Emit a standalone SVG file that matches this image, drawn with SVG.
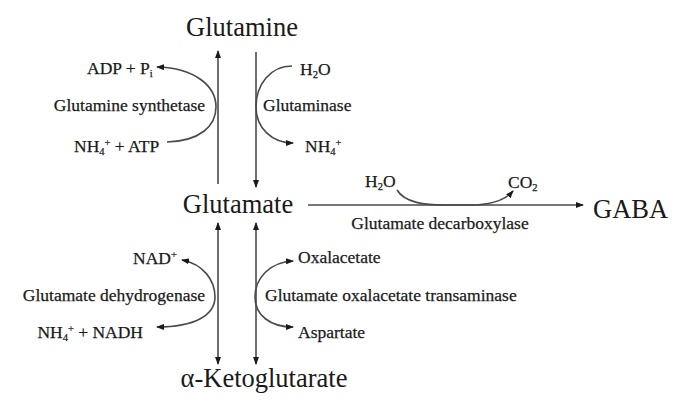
<svg xmlns="http://www.w3.org/2000/svg" width="696" height="413" viewBox="0 0 696 413">
<style>
text{font-family:"Liberation Serif","Times New Roman",serif;fill:#1a1a1a}
.big{font-size:26.5px}
.sm{font-size:17.5px;stroke:#1a1a1a;stroke-width:0.25}
.sub{font-size:10.5px}
.ln{fill:none;stroke:#4a4a4a;stroke-width:1.6}
</style>
<defs>
<marker id="ah" viewBox="0 0 8 6" refX="7" refY="3" markerWidth="8" markerHeight="6" markerUnits="userSpaceOnUse" orient="auto-start-reverse">
<path d="M0,0 L8,3 L0,6 Z" fill="#1a1a1a"/>
</marker>
</defs>
<rect width="696" height="413" fill="#fff"/>
<g id="connectors">
<line class="ln" x1="218" y1="184" x2="218" y2="51" marker-end="url(#ah)"/>
<line class="ln" x1="256" y1="52" x2="256" y2="187" marker-end="url(#ah)"/>
<line class="ln" x1="218" y1="223" x2="218" y2="364" marker-start="url(#ah)" marker-end="url(#ah)"/>
<line class="ln" x1="256" y1="223" x2="256" y2="364" marker-start="url(#ah)" marker-end="url(#ah)"/>
<line class="ln" x1="308" y1="205" x2="583" y2="205" marker-end="url(#ah)"/>
<path class="ln" d="M167,142 C200,141 216,126 216,107 C216,86 195,68 157,67" marker-end="url(#ah)"/>
<path class="ln" d="M292,66 C270,66 256,85 256,107 C256,128 272,143 293,143" marker-end="url(#ah)"/>
<path class="ln" d="M182,260 C203,264 215,280 215,297 C215,315 195,327 157,327" marker-start="url(#ah)" marker-end="url(#ah)"/>
<path class="ln" d="M293,261 C270,262 255,278 255,297 C255,315 270,327 293,327" marker-start="url(#ah)" marker-end="url(#ah)"/>
<path class="ln" d="M397,190 C405,203 425,205 445,205 L470,205 C490,205 505,200 513,191" marker-end="url(#ah)"/>
</g>
<g id="glutamine"><text class="big" x="242" y="36" text-anchor="middle">Glutamine</text></g>
<g id="glutamate"><text class="big" x="238" y="213" text-anchor="middle">Glutamate</text></g>
<g id="ketoglutarate"><text class="big" x="264" y="387" text-anchor="middle">α-Ketoglutarate</text></g>
<g id="gaba"><text class="big" x="593" y="218">GABA</text></g>
<g id="glutamine-synthetase">
<text class="sm" x="87" y="74">ADP + P<tspan class="sub" dy="3">i</tspan></text>
<text class="sm" x="205" y="111" text-anchor="end">Glutamine synthetase</text>
<text class="sm" x="74" y="152">NH<tspan class="sub" dy="3">4</tspan><tspan class="sub" dy="-9">+</tspan><tspan dy="6"> + ATP</tspan></text>
</g>
<g id="glutaminase">
<text class="sm" x="300" y="75">H<tspan class="sub" dy="3">2</tspan><tspan dy="-3">O</tspan></text>
<text class="sm" x="263" y="111">Glutaminase</text>
<text class="sm" x="305" y="152">NH<tspan class="sub" dy="3">4</tspan><tspan class="sub" dy="-9">+</tspan></text>
</g>
<g id="glutamate-dehydrogenase">
<text class="sm" x="133" y="264">NAD<tspan class="sub" dy="-6">+</tspan></text>
<text class="sm" x="205" y="301" text-anchor="end">Glutamate dehydrogenase</text>
<text class="sm" x="143" y="338" text-anchor="end">NH<tspan class="sub" dy="3">4</tspan><tspan class="sub" dy="-9">+</tspan><tspan dy="6"> + NADH</tspan></text>
</g>
<g id="got">
<text class="sm" x="298" y="263">Oxalacetate</text>
<text class="sm" x="265" y="301">Glutamate oxalacetate transaminase</text>
<text class="sm" x="298" y="338">Aspartate</text>
</g>
<g id="gad">
<text class="sm" x="365" y="187">H<tspan class="sub" dy="3">2</tspan><tspan dy="-3">O</tspan></text>
<text class="sm" x="508" y="188">CO<tspan class="sub" dy="3">2</tspan></text>
<text class="sm" x="440" y="229" text-anchor="middle">Glutamate decarboxylase</text>
</g>
</svg>
